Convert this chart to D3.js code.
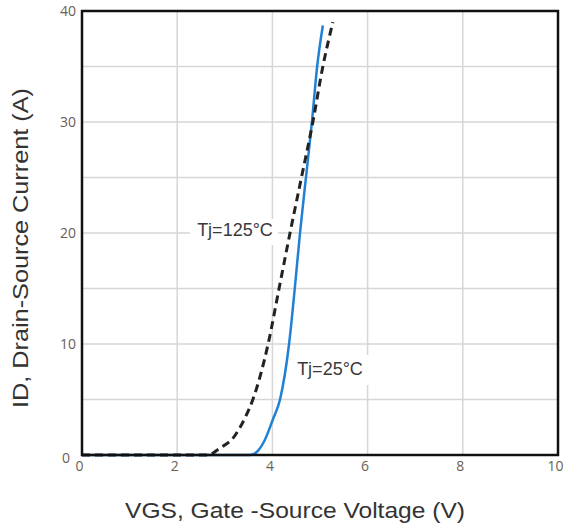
<!DOCTYPE html>
<html lang="en">

<head>
  <meta charset="UTF-8">
  <script src="https://cdn.jsdelivr.net/npm/d3@7"></script>
  <title>Transfer characteristics</title>
  <style>
    body {
      margin: 0;
      background: #fff;
    }

    .tick text {
      font-family: "Open Sans", sans-serif;
      font-size: 14px;
      fill: #6b5e52;
    }

    .title {
      font-family: "Liberation Sans", Arial, sans-serif;
      fill: #333;
    }
  </style>
</head>

<body>
  <div class="fig"></div>

  <script>
    /*------------------- data --------------------*/
    // Tj = 25 C curve (VGS in V, ID in A)
    const vgs25 = [0, 3.53, 3.7, 3.84, 4.01, 4.16, 4.35, 4.47, 4.58, 4.71, 4.83, 4.94, 5.06];
    const id25 = [0, 0, 0.4, 1.35, 3.2, 5, 10, 15, 20, 25.2, 30, 35, 38.7];
    // Tj = 125 C curve
    const vgs125 = [0, 2.65, 2.86, 3.0, 3.15, 3.28, 3.42, 3.59, 3.91, 4.14, 4.37, 4.62, 4.85, 5.06, 5.27];
    const id125 = [0, 0, 0.5, 0.9, 1.4, 2.2, 3.3, 5, 10, 15, 20, 25.2, 30, 35, 39];

    const xTicks = [0, 2, 4, 6, 8, 10];
    const yTicks = [0, 10, 20, 30, 40];
    const yGrid = [5, 10, 15, 20, 25, 30, 35];
    const xGrid = [2, 4, 6, 8];

    /*------------------- layout --------------------*/
    const width = 564, height = 528;
    const plot = { left: 82, right: 558, top: 11, bottom: 455 };

    const svg = d3.select(".fig").append("svg")
      .attr("width", width)
      .attr("height", height);

    const x = d3.scaleLinear().domain([0, 10]).range([plot.left, plot.right]);
    const y = d3.scaleLinear().domain([0, 40]).range([plot.bottom, plot.top]);

    // grid
    svg.append("g").selectAll("line")
      .data(yGrid)
      .join("line")
      .attr("x1", plot.left).attr("x2", plot.right)
      .attr("y1", d => y(d)).attr("y2", d => y(d))
      .attr("stroke", "#d6d6d6")
      .attr("stroke-width", 1.5);

    svg.append("g").selectAll("line")
      .data(xGrid)
      .join("line")
      .attr("x1", d => x(d)).attr("x2", d => x(d))
      .attr("y1", plot.top).attr("y2", plot.bottom)
      .attr("stroke", "#d6d6d6")
      .attr("stroke-width", 1.5);

    // axes (labels only, frame drawn separately)
    const yAxis = svg.append("g")
      .attr("transform", `translate(${plot.left - 6},0)`)
      .call(d3.axisLeft(y).tickValues(yTicks).tickSize(0).tickPadding(0));
    yAxis.select(".domain").remove();
    yAxis.selectAll(".tick text").attr("dy", "0.35em");
    yAxis.selectAll(".tick").filter(d => d === 0).select("text").attr("dy", "0.5em").attr("x", -6);

    const xAxis = svg.append("g")
      .attr("transform", `translate(-3,${plot.bottom + 5})`)
      .call(d3.axisBottom(x).tickValues(xTicks).tickSize(0).tickPadding(0));
    xAxis.select(".domain").remove();
    xAxis.selectAll(".tick text").attr("dy", "0.75em");

    // curves
    const line = d3.line()
      .x(d => x(d[0]))
      .y(d => y(d[1]))
      .curve(d3.curveMonotoneX);

    const data25 = vgs25.map((v, i) => [v, id25[i]]);
    const data125 = vgs125.map((v, i) => [v, id125[i]]);

    svg.append("path")
      .attr("d", line(data25))
      .attr("fill", "none")
      .attr("stroke", "#1f80d6")
      .attr("stroke-width", 2.5);

    svg.append("path")
      .attr("d", line(data125))
      .attr("fill", "none")
      .attr("stroke", "#222")
      .attr("stroke-width", 3)
      .attr("stroke-dasharray", "8,5");

    // frame
    svg.append("rect")
      .attr("x", plot.left)
      .attr("y", plot.top)
      .attr("width", plot.right - plot.left)
      .attr("height", plot.bottom - plot.top)
      .attr("fill", "none")
      .attr("stroke", "#111")
      .attr("stroke-width", 2.5);

    // curve labels with white backing
    const labels = [
      { text: "Tj=125°C", x: 235, y: 236, box: [190, 219, 88, 26] },
      { text: "Tj=25°C", x: 330, y: 375, box: [291, 355, 80, 30] }
    ];
    labels.forEach(l => {
      svg.append("rect")
        .attr("x", l.box[0]).attr("y", l.box[1])
        .attr("width", l.box[2]).attr("height", l.box[3])
        .attr("fill", "#fff");
      svg.append("text")
        .attr("class", "title")
        .attr("x", l.x)
        .attr("y", l.y)
        .attr("text-anchor", "middle")
        .style("font-size", "18px")
        .style("fill", "#3a3a3a")
        .text(l.text);
    });

    // axis titles
    svg.append("text")
      .attr("class", "title")
      .attr("x", 295)
      .attr("y", 518)
      .attr("text-anchor", "middle")
      .attr("textLength", 340)
      .attr("lengthAdjust", "spacingAndGlyphs")
      .style("font-size", "22px")
      .text("VGS, Gate -Source Voltage (V)");

    svg.append("text")
      .attr("class", "title")
      .attr("transform", "translate(28,248) rotate(-90)")
      .attr("text-anchor", "middle")
      .attr("textLength", 320)
      .attr("lengthAdjust", "spacingAndGlyphs")
      .style("font-size", "22px")
      .text("ID, Drain-Source Current (A)");
  </script>
</body>

</html>
